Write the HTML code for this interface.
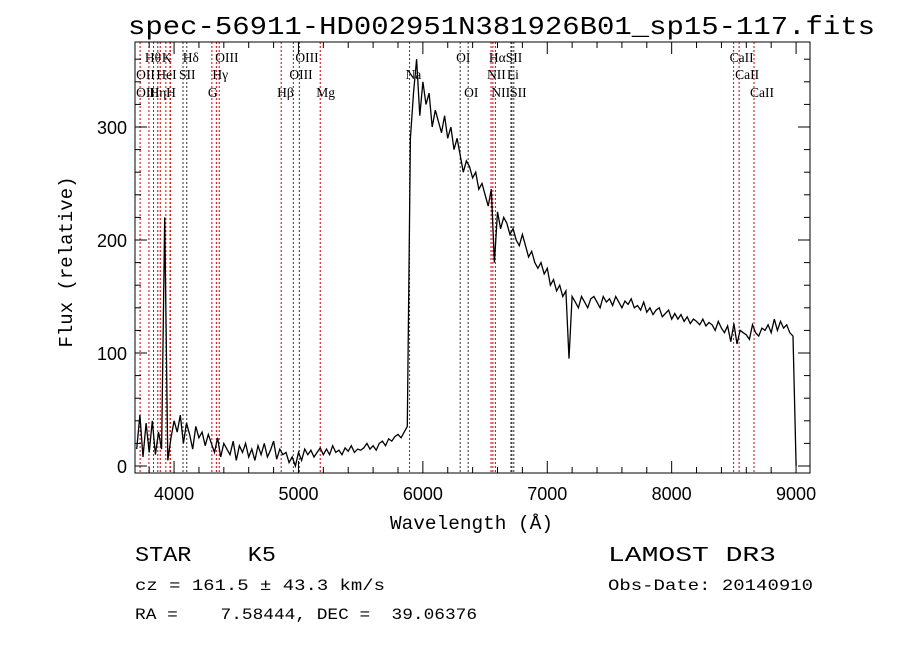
<!DOCTYPE html>
<html><head><meta charset="utf-8"><style>
body{margin:0;background:#fff;}
svg{display:block;font-family:"Liberation Serif",serif;}
text{white-space:pre;}
</style></head><body>
<svg id="chart" width="900" height="649" xmlns="http://www.w3.org/2000/svg">
<text x="128" y="34" textLength="747" lengthAdjust="spacingAndGlyphs" font-family="Liberation Mono, monospace" font-size="26">spec-56911-HD002951N381926B01_sp15-117.fits</text>
<g id="lines"></g>
<g id="axes"></g>
<path id="spec" fill="none" stroke="#000" stroke-width="1.3"/>
<rect x="135" y="42" width="675" height="431" fill="none" stroke="#000" stroke-width="1"/>
<text x="390" y="529" textLength="163" lengthAdjust="spacingAndGlyphs" font-family="Liberation Mono, monospace" font-size="19">Wavelength (Å)</text>
<text transform="translate(72,262) rotate(-90)" text-anchor="middle" font-family="Liberation Mono, monospace" font-size="19">Flux (relative)</text>
<g font-family="Liberation Mono, monospace">
<text x="135" y="561" textLength="141" lengthAdjust="spacingAndGlyphs" font-size="21">STAR    K5</text>
<text x="608" y="561" textLength="168" lengthAdjust="spacingAndGlyphs" font-size="21">LAMOST DR3</text>
<text x="135" y="590" textLength="250" lengthAdjust="spacingAndGlyphs" font-size="16">cz = 161.5 ± 43.3 km/s</text>
<text x="608" y="590" textLength="205" lengthAdjust="spacingAndGlyphs" font-size="16">Obs-Date: 20140910</text>
<text x="135" y="619" textLength="342" lengthAdjust="spacingAndGlyphs" font-size="16">RA =    7.58444, DEC =  39.06376</text>
</g>
</svg>
<script>
const waveStart = 3700, waveStep = 25;
const flux = [15,45,8,38,12,40,10,30,15,220,5,25,40,
30,45,20,38,28,15,35,25,30,18,28,20,
12,25,8,20,15,10,22,5,18,12,20,8,
15,5,18,10,20,8,14,22,6,15,10,12,
3,8,0,12,5,15,10,14,8,12,16,10,
15,10,18,12,14,10,16,13,18,12,15,14,
16,20,15,18,14,20,22,18,24,22,26,28,
25,30,35,290,
330,360,310,340,320,330,300,315,305,295,310,290,
300,280,290,275,260,270,265,255,260,245,250,240,
230,245,180,225,210,220,215,205,210,200,195,205,
195,185,190,180,175,180,170,175,160,165,155,160,
150,155,95,150,145,140,150,145,140,148,150,145,
140,150,145,148,142,150,145,140,146,143,148,140,
142,138,145,136,140,134,138,140,132,135,138,130,
135,130,134,128,132,126,130,128,125,130,124,127,
125,120,128,122,118,124,110,126,108,120,118,116,
112,125,118,115,122,120,125,118,130,120,128,122,
125,118,115,0];
const xTicks = [4000,5000,6000,7000,8000,9000];
const yTicks = [0,100,200,300];
const lineWaves = [3727,3798,3835,3869,3889,3934,3968,3970,4072,4102,4304,4340,4363,4861,4959,5007,5175,5893,6300,6364,6548,6563,6583,6708,6716,6731,8498,8542,8662];
const lineColors = ['r','r','r','r','r','r','r','r','k','k','r','r','r','r','r','k','r','r','k','k','r','r','r','k','k','k','r','r','r'];
const labelNames = ['Hθ','K','Hδ','OIII','OIII','OI','HαSII','CaII','OII','HeI','SII','Hγ','OIII','Na','NII','Li','CaII','OIII','Hη','H','G','Hβ','Mg','OI','NIISII','CaII'];
const labelWaves = [3798,3934,4102,4363,5007,6300,6563,8498,3727,3890,4072,4340,4959,5893,6548,6708,8542,3727,3835,3968,4304,4861,5175,6364,6583,8662];
const labelRows = [0,0,0,0,0,0,0,0,1,1,1,1,1,1,1,1,1,2,2,2,2,2,2,2,2,2];

const X0=135,X1=810,WMIN=3686,WMAX=9112,YB=466,YS=1.13;
const xs=w=>X0+(w-WMIN)/(WMAX-WMIN)*(X1-X0);
const ys=f=>YB-f*YS;
const NS="http://www.w3.org/2000/svg";
function mk(t,a,p){const e=document.createElementNS(NS,t);for(const k in a)e.setAttribute(k,a[k]);p.appendChild(e);return e;}
const ax=document.getElementById('axes'), lg=document.getElementById('lines');
lineWaves.forEach((w,i)=>{const e=mk('line',{x1:xs(w),x2:xs(w),y1:42,y2:473,stroke:lineColors[i]==='r'?'#c00':'#333','stroke-width':1,'stroke-dasharray':'2,2'},lg);

});
labelNames.forEach((n,i)=>{const e=mk('text',{x:xs(labelWaves[i])-4,y:[62,79,97][labelRows[i]],'font-size':13.5},lg);e.textContent=n;

});
for(let w=3800;w<=9100;w+=200){const big=w%1000===0;
mk('line',{x1:xs(w),x2:xs(w),y1:473,y2:473-(big?12:6),stroke:'#000'},ax);
mk('line',{x1:xs(w),x2:xs(w),y1:42,y2:42+(big?12:6),stroke:'#000'},ax);}
xTicks.forEach(w=>{const t=mk('text',{x:xs(w),y:500,'text-anchor':'middle','font-family':'Liberation Sans, sans-serif','font-size':18},ax);t.textContent=w;

});
for(let f=0;f<=370;f+=20){const big=f%100===0;
mk('line',{x1:135,x2:135+(big?12:6),y1:ys(f),y2:ys(f),stroke:'#000'},ax);
mk('line',{x1:810,x2:810-(big?12:6),y1:ys(f),y2:ys(f),stroke:'#000'},ax);}
yTicks.forEach(f=>{const t=mk('text',{x:127,y:ys(f)+7,'text-anchor':'end','font-family':'Liberation Sans, sans-serif','font-size':18},ax);t.textContent=f;

});
let d='';flux.forEach((f,i)=>{const w=waveStart+i*waveStep;d+=(i?'L':'M')+xs(w).toFixed(1)+','+Math.max(42,ys(f)).toFixed(1);});
document.getElementById('spec').setAttribute('d',d);
</script>
</body></html>
